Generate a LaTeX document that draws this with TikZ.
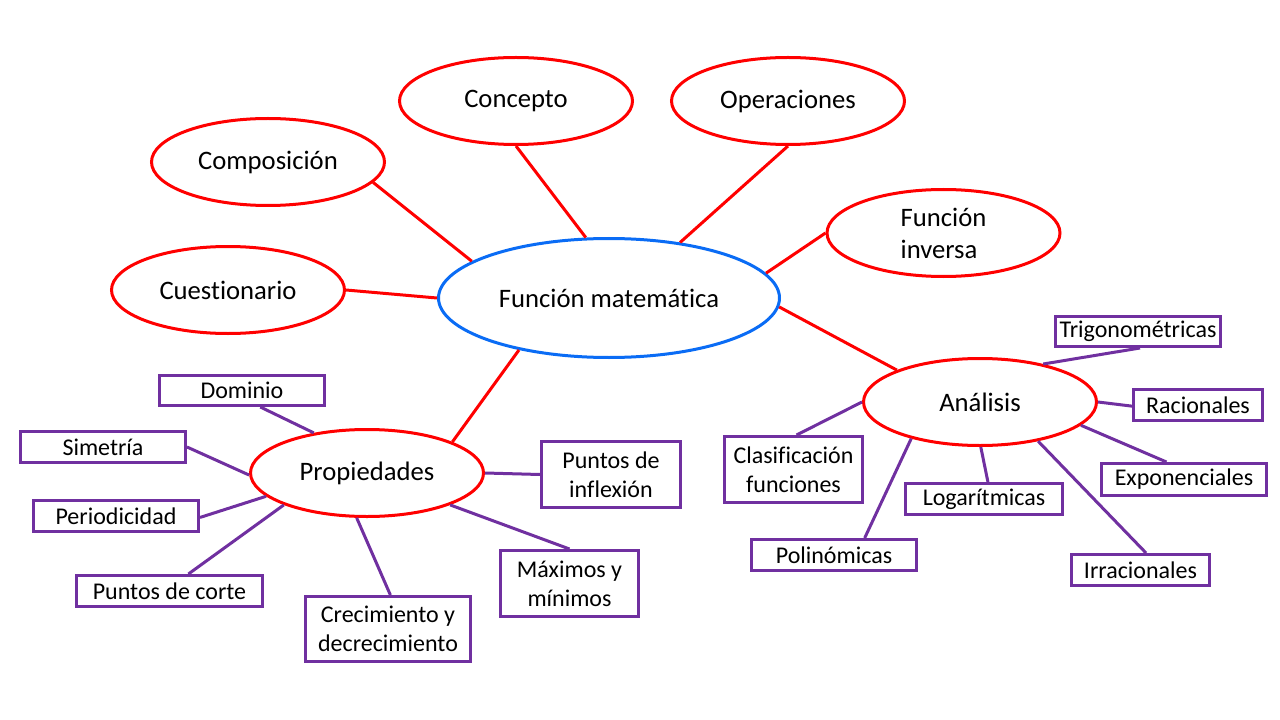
\documentclass[tikz,border=0pt]{standalone}
\usepackage{fontspec}
\setmainfont{Carlito}[Ligatures=NoCommon]
\usetikzlibrary{shapes.geometric}
\definecolor{cred}{HTML}{FF0000}
\definecolor{cblue}{HTML}{0A6CF5}
\definecolor{cpurp}{HTML}{7030A0}
\begin{document}
\begin{tikzpicture}[x=0.75pt,y=-0.75pt,
  oval/.style={ellipse, draw=cred, line width=2.25pt, fill=white, inner sep=0pt, minimum width=174.75pt, minimum height=65.25pt, font=\fontsize{20}{24}\selectfont, align=center},
  mainoval/.style={oval, draw=cblue, minimum width=255.75pt, minimum height=89.25pt},
  bx/.style={rectangle, draw=cpurp, line width=2.25pt, fill=white, inner sep=0pt, font=\fontsize{18}{21.6}\selectfont, align=center},
  redline/.style={draw=cred, line width=2.25pt},
  purpline/.style={draw=cpurp, line width=2.25pt}]
\useasboundingbox (0,0) rectangle (1280,720);
% ellipses
\node[mainoval] (main) at (609,298) {Función matemática};
\node[oval] (conc) at (516,101) {Concepto};
\node[oval] (oper) at (788,101) {Operaciones};
\node[oval] (comp) at (268,162) {Composición};
\node[oval, align=left] (inv) at (943.5,233) {Función\\inversa};
\node[oval] (cues) at (228,290) {Cuestionario};
\node[oval] (prop) at (367,473) {Propiedades};
\node[oval] (ana) at (980,402) {Análisis};
% left boxes
\node[bx, minimum width=123.75pt, minimum height=22.5pt] (dom) at (242,390.5) {Dominio};
\node[bx, minimum width=123.75pt, minimum height=23.25pt] (sim) at (103,447) {Simetría};
\node[bx, minimum width=123.75pt, minimum height=23.25pt] (per) at (116,516) {Periodicidad};
\node[bx, minimum width=139.5pt, minimum height=23.25pt] (corte) at (169.5,591) {Puntos de corte};
\node[bx, minimum width=123.75pt, minimum height=48.75pt] (crec) at (388,629) {Crecimiento y\\decrecimiento};
\node[bx, minimum width=103.5pt, minimum height=49.5pt] (maxi) at (569.5,583.5) {Máximos y\\mínimos};
\node[bx, minimum width=104.25pt, minimum height=49.5pt] (infl) at (611,474.5) {Puntos de\\inflexión};
% right boxes
\node[bx, minimum width=123.75pt, minimum height=22.5pt] (trig) at (1138,331.5) {Trigonométricas};
\node[bx, minimum width=96.75pt, minimum height=23.25pt] (rac) at (1198,405) {Racionales};
\node[bx, minimum width=123.75pt, minimum height=24pt] (expo) at (1184,479.5) {Exponenciales};
\node[bx, minimum width=103.5pt, minimum height=23.25pt] (irr) at (1140.5,570) {Irracionales};
\node[bx, minimum width=117.75pt, minimum height=23.25pt] (loga) at (984,499) {Logarítmicas};
\node[bx, minimum width=123.75pt, minimum height=23.25pt] (pol) at (834,555) {Polinómicas};
\node[bx, minimum width=103.5pt, minimum height=49.5pt] (clas) at (793.5,469.5) {Clasificación\\funciones};
% red connectors
\draw[redline] (comp.-11.7) -- (main.165.4);
\draw[redline] (conc.south) -- (main.111);
\draw[redline] (oper.south) -- (main.38);
\draw[redline] (inv.west) -- (main.9);
\draw[redline] (cues.east) -- (main.west);
\draw[redline] (prop.20) -- (main.210);
\draw[redline] (ana.159) -- (main.-3);
% purple connectors
\draw[purpline] (dom.-42.5) -- (prop.143.5);
\draw[purpline] (sim.east) -- (prop.181);
\draw[purpline] (per.-1) -- (prop.193);
\draw[purpline] (corte.42.6) -- (prop.201.4);
\draw[purpline] (crec.86.6) -- (prop.257.5);
\draw[purpline] (maxi.north) -- (prop.-21.4);
\draw[purpline] (infl.west) -- (prop.east);
\draw[purpline] (trig.-83) -- (ana.31);
\draw[purpline] (rac.181.8) -- (ana.east);
\draw[purpline] (expo.135.8) -- (ana.-13.9);
\draw[purpline] (irr.72) -- (ana.-34.6);
\draw[purpline] (loga.77) -- (ana.-89);
\draw[purpline] (pol.29.9) -- (ana.208.6);
\draw[purpline] (clas.85.9) -- (ana.west);
\end{tikzpicture}
\end{document}
